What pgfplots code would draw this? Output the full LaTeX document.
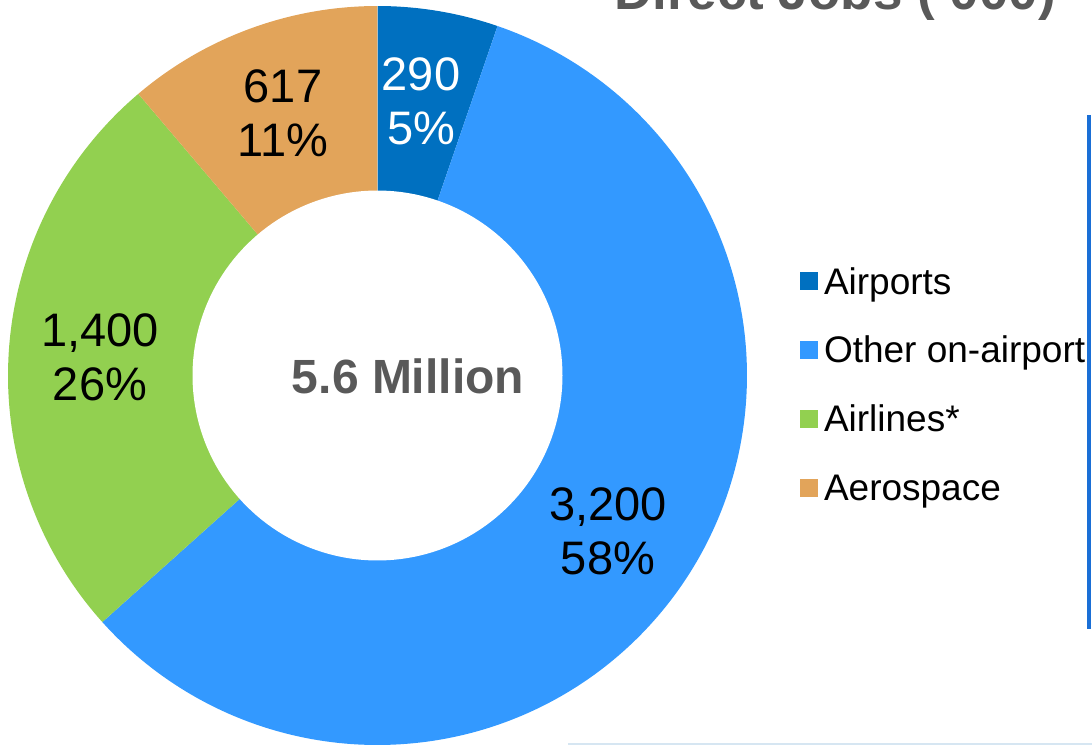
\documentclass[border=0pt]{standalone}
\usepackage{pgfplots}
\usepackage{pgfplotstable}
\pgfplotsset{compat=1.18}
\usepackage{fontspec}
\setmainfont{Liberation Sans}
\definecolor{cAirports}{HTML}{0070C0}
\definecolor{cOther}{HTML}{3399FF}
\definecolor{cAirlines}{HTML}{92D050}
\definecolor{cAero}{HTML}{E2A45A}
\definecolor{tgray}{HTML}{595959}
\definecolor{vline}{HTML}{1A6FD6}
\definecolor{hline}{HTML}{D6E6F2}

\pgfplotstableread{
label value
Airports 290
Other 3200
Airlines 1400
Aerospace 617
}\jobsdata

\pgfplotstablegetelem{0}{value}\of\jobsdata \let\vA\pgfplotsretval
\pgfplotstablegetelem{1}{value}\of\jobsdata \let\vB\pgfplotsretval
\pgfplotstablegetelem{2}{value}\of\jobsdata \let\vC\pgfplotsretval
\pgfplotstablegetelem{3}{value}\of\jobsdata \let\vD\pgfplotsretval
\pgfmathsetmacro{\vT}{\vA+\vB+\vC+\vD}
\pgfmathsetmacro{\aA}{90-360*(\vA/\vT)}
\pgfmathsetmacro{\aB}{\aA-360*(\vB/\vT)}
\pgfmathsetmacro{\aC}{\aB-360*(\vC/\vT)}
\pgfmathsetmacro{\aD}{\aC-360*(\vD/\vT)}
\def\cx{377.5}
\def\cy{369.5}
\def\R{369.5}
\def\r{185}

\begin{document}
\begin{tikzpicture}
\clip (0,0) rectangle (546pt,372.5pt);
\begin{axis}[
  at={(0,0)}, anchor=south west,
  x=0.5pt, y=0.5pt,
  xmin=0, xmax=1092, ymin=0, ymax=745,
  hide axis, clip=false,
  legend cell align=left,
  legend style={at={(axis cs:800,477)}, anchor=north west, draw=none, fill=none,
    inner sep=0pt, outer sep=0pt, row sep=17.45pt, column sep=3pt,
    font=\fontsize{18.5}{21}\selectfont,
    nodes={inner sep=0pt, text height=13pt, text depth=4pt}},
  legend image code/.code={\fill[#1] (0pt,-2.5pt) rectangle (9pt,6.5pt);},
]
\addplot[fill=cAirports, draw=none, domain=\aA:90, samples=40, variable=\t]
  ({\cx+\R*cos(\t)},{\cy+\R*sin(\t)}) -- (axis cs:\cx,\cy) -- cycle;
\addlegendentry{Airports}
\addplot[fill=cOther, draw=none, domain=\aB:\aA, samples=200, variable=\t]
  ({\cx+\R*cos(\t)},{\cy+\R*sin(\t)}) -- (axis cs:\cx,\cy) -- cycle;
\addlegendentry{Other on-airport}
\addplot[fill=cAirlines, draw=none, domain=\aC:\aB, samples=100, variable=\t]
  ({\cx+\R*cos(\t)},{\cy+\R*sin(\t)}) -- (axis cs:\cx,\cy) -- cycle;
\addlegendentry{Airlines*}
\addplot[fill=cAero, draw=none, domain=\aD:\aC, samples=60, variable=\t]
  ({\cx+\R*cos(\t)},{\cy+\R*sin(\t)}) -- (axis cs:\cx,\cy) -- cycle;
\addlegendentry{Aerospace}
\addplot[fill=white, draw=none, domain=0:360, samples=180, variable=\t, forget plot]
  ({\cx+\r*cos(\t)},{\cy+\r*sin(\t)}) -- cycle;

\node[align=center, text=white, font=\fontsize{23.5}{27}\selectfont] at (axis cs:421,644) {290\\5\%};
\node[align=center, text=black, font=\fontsize{23.5}{27}\selectfont] at (axis cs:283,632) {617\\11\%};
\node[align=center, text=black, font=\fontsize{23.5}{27}\selectfont] at (axis cs:100,388) {1,400\\26\%};
\node[align=center, text=black, font=\fontsize{23.5}{27}\selectfont] at (axis cs:608,214) {3,200\\58\%};
\node[anchor=base, text=tgray, font=\bfseries\fontsize{24}{28}\selectfont] at (axis cs:408,352) {5.6 Million};
\node[anchor=base, text=tgray, font=\bfseries\fontsize{26.5}{30}\selectfont] at (axis cs:835,735) {Direct Jobs ('000)};
\draw[vline, line width=2pt] (axis cs:1089,630) -- (axis cs:1089,116);
\draw[hline, line width=1pt] (axis cs:568,1.5) -- (axis cs:1092,1.5);
\end{axis}
\end{tikzpicture}
\end{document}
